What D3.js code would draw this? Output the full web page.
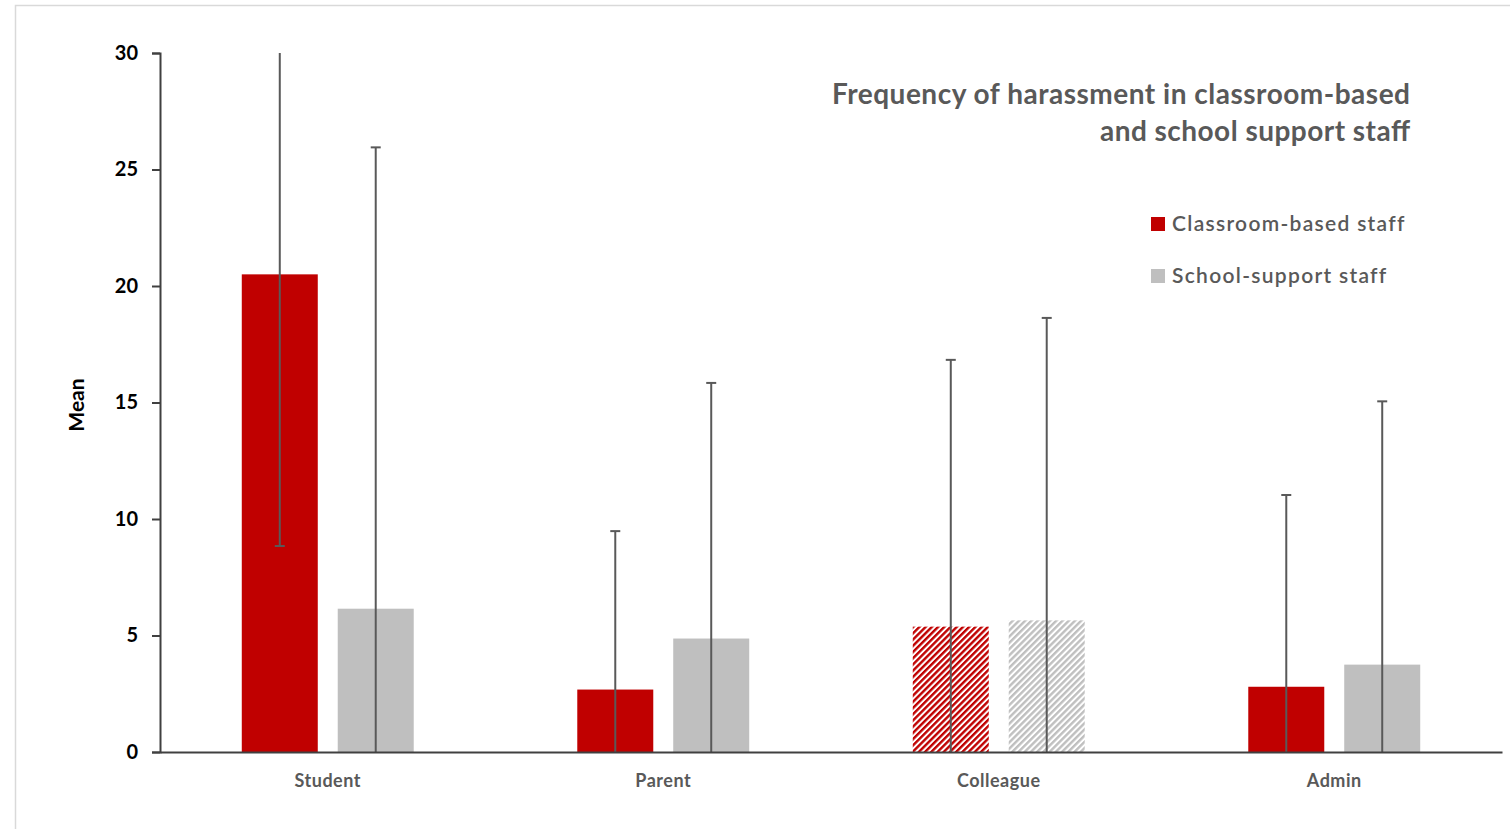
<!DOCTYPE html>
<meta charset="utf-8">
<title>Frequency of harassment</title>
<style>
body { margin: 0; background: #fff; }
svg { display: block; font-family: Lato, "Open Sans", sans-serif; }
</style>
<svg width="1510" height="829"></svg>
<script src="https://d3js.org/d3.v7.min.js"></script>
<script>
// categories and series
var categories = ["Student", "Parent", "Colleague", "Admin"];
var seriesNames = ["Classroom-based staff", "School-support staff"];
var classroomMean = [20.5, 2.68, 5.38, 2.8];
var classroomSD   = [11.66, 6.8, 11.45, 8.23];
var supportMean   = [6.15, 4.87, 5.65, 3.75];
var supportSD     = [19.8, 10.97, 12.98, 11.3];
var hatched = ["Colleague"]; // bars drawn with diagonal fill
var yTicks = [0, 5, 10, 15, 20, 25, 30];

var colors = ["#c00000", "#bfbfbf"];

var svg = d3.select("svg");

// light frame round the chart area
svg.append("rect")
    .attr("x", 15.5).attr("y", 5.5)
    .attr("width", 1520).attr("height", 840)
    .attr("fill", "none").attr("stroke", "#d9d9d9").attr("stroke-width", 1.5);

var margin = {left: 160, right: 8, top: 53, bottom: 77};
var width = 1510 - margin.left - margin.right;
var height = 829 - margin.top - margin.bottom;

var x = d3.scaleBand().domain(categories).range([0, width]);
var y = d3.scaleLinear().domain([0, 30]).range([height, 0]);
var barW = x.bandwidth() * 0.2265;
var offset = x.bandwidth() * 0.143;

// hatch patterns for the colleague bars
var defs = svg.append("defs");
colors.forEach(function(c, i) {
  var p = defs.append("pattern")
      .attr("id", "hatch" + i)
      .attr("patternUnits", "userSpaceOnUse")
      .attr("width", 4.4).attr("height", 4.4)
      .attr("patternTransform", "rotate(45)");
  p.append("rect").attr("width", 4.4).attr("height", 4.4).attr("fill", "#fff");
  p.append("rect").attr("width", 2.4).attr("height", 4.4).attr("fill", c);
});

var g = svg.append("g").attr("transform", "translate(" + margin.left + "," + margin.top + ")");

var rows = [];
categories.forEach(function(c, i) {
  rows.push({cat: c, s: 0, mean: classroomMean[i], sd: classroomSD[i]});
  rows.push({cat: c, s: 1, mean: supportMean[i], sd: supportSD[i]});
});
function cx(d) { return x(d.cat) + x.bandwidth() / 2 + (d.s === 0 ? -offset : offset); }

g.selectAll(".bar")
  .data(rows)
  .enter().append("rect")
    .attr("class", "bar")
    .attr("x", function(d) { return cx(d) - barW / 2; })
    .attr("y", function(d) { return y(d.mean); })
    .attr("width", barW)
    .attr("height", function(d) { return y(0) - y(d.mean); })
    .attr("fill", function(d) {
      return hatched.indexOf(d.cat) >= 0 ? "url(#hatch" + d.s + ")" : colors[d.s];
    });

// error bars, clipped to the axis range
var err = g.selectAll(".err").data(rows).enter().append("g").attr("class", "err");
err.append("line")
    .attr("x1", cx).attr("x2", cx)
    .attr("y1", function(d) { return y(Math.max(0, d.mean - d.sd)); })
    .attr("y2", function(d) { return y(Math.min(30, d.mean + d.sd)); })
    .attr("stroke", "#595959").attr("stroke-width", 2);
err.filter(function(d) { return d.mean + d.sd <= 30; }).append("line")
    .attr("x1", function(d) { return cx(d) - 5; }).attr("x2", function(d) { return cx(d) + 5; })
    .attr("y1", function(d) { return y(d.mean + d.sd); })
    .attr("y2", function(d) { return y(d.mean + d.sd); })
    .attr("stroke", "#595959").attr("stroke-width", 2);
err.filter(function(d) { return d.mean - d.sd >= 0; }).append("line")
    .attr("x1", function(d) { return cx(d) - 5; }).attr("x2", function(d) { return cx(d) + 5; })
    .attr("y1", function(d) { return y(d.mean - d.sd); })
    .attr("y2", function(d) { return y(d.mean - d.sd); })
    .attr("stroke", "#595959").attr("stroke-width", 2);

// y axis
var yAxis = g.append("g")
    .call(d3.axisLeft(y).tickValues(yTicks).tickSize(8).tickPadding(14))
    .attr("font-family", null);
yAxis.select(".domain").attr("stroke", "#404040").attr("stroke-width", 2);
yAxis.selectAll(".tick line").attr("stroke", "#404040").attr("stroke-width", 2);
yAxis.selectAll(".tick text")
    .attr("fill", "#000").attr("font-size", 20).attr("font-weight", "bold");

// x axis
var xAxis = g.append("g")
    .attr("transform", "translate(0," + height + ")")
    .call(d3.axisBottom(x).tickSize(0).tickPadding(22))
    .attr("font-family", null);
xAxis.select(".domain").attr("stroke", "#404040").attr("stroke-width", 2);
xAxis.selectAll(".tick text")
    .attr("fill", "#595959").attr("font-size", 18).attr("font-weight", "bold")
    .attr("letter-spacing", 0.5);

// y label
svg.append("text")
    .attr("transform", "translate(84,405) rotate(-90)")
    .attr("text-anchor", "middle")
    .attr("font-size", 21).attr("font-weight", "bold").attr("fill", "#000")
    .text("Mean");

// title
var title = svg.append("text")
    .attr("text-anchor", "end")
    .attr("font-size", 28).attr("font-weight", "bold").attr("fill", "#595959");
title.append("tspan").attr("x", 1410).attr("y", 104)
    .attr("textLength", 578).attr("lengthAdjust", "spacing")
    .text("Frequency of harassment in classroom-based");
title.append("tspan").attr("x", 1410).attr("y", 141)
    .attr("textLength", 310).attr("lengthAdjust", "spacing")
    .text("and school support staff");

// legend
var legend = svg.selectAll(".legend")
  .data(seriesNames)
  .enter().append("g")
    .attr("class", "legend")
    .attr("transform", function(d, i) { return "translate(1151," + (224 + i * 52) + ")"; });
legend.append("rect")
    .attr("x", 0).attr("y", -7).attr("width", 14).attr("height", 14)
    .attr("fill", function(d, i) { return colors[i]; });
legend.append("text")
    .attr("x", 21).attr("dy", "0.35em")
    .attr("font-size", 21).attr("fill", "#595959").attr("font-weight", 600)
    .attr("letter-spacing", 1.3)
    .text(function(d) { return d; });
</script>
